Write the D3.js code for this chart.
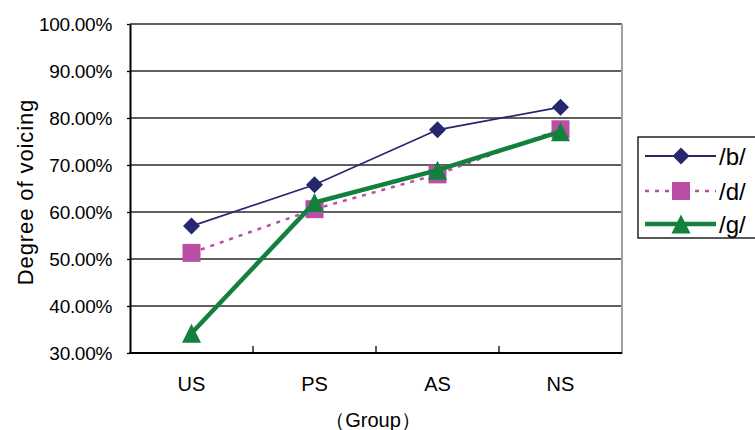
<!DOCTYPE html>
<html>
<head>
<meta charset="utf-8">
<script src="https://cdn.jsdelivr.net/npm/d3@7"></script>
<style>
html,body{margin:0;padding:0;background:#fff;}
svg{display:block;}
text{font-family:"Liberation Sans",Arial,sans-serif;fill:#000;}
</style>
</head>
<body>
<svg id="chart" width="755" height="430"></svg>
<script>
const categories = ["US", "PS", "AS", "NS"];
const seriesB = [0.570, 0.658, 0.775, 0.823];
const seriesD = [0.513, 0.606, 0.680, 0.776];
const seriesG = [0.342, 0.620, 0.689, 0.771];
const seriesNames = ["/b/", "/d/", "/g/"];
const yTicks = [0.3, 0.4, 0.5, 0.6, 0.7, 0.8, 0.9, 1.0];

const svg = d3.select("#chart");
const L = 130, R = 622, T = 24, B = 353;

const x = d3.scaleBand().domain(categories).range([L, R]);
const y = d3.scaleLinear().domain([0.3, 1.0]).range([B, T]);

// gridlines
svg.append("g").selectAll("line").data(yTicks.slice(1)).join("line")
  .attr("x1", L).attr("x2", R)
  .attr("y1", d => y(d)).attr("y2", d => y(d))
  .attr("stroke", "#2a2a2a").attr("stroke-width", 1.3);

// right border
svg.append("line").attr("x1", R).attr("x2", R).attr("y1", T).attr("y2", B + 1)
  .attr("stroke", "#a0a0a0").attr("stroke-width", 2);

// y axis
const yAxis = d3.axisLeft(y).tickValues(yTicks).tickSize(3).tickSizeOuter(0)
  .tickFormat(d => (d * 100).toFixed(2) + "%").tickPadding(15);
const gy = svg.append("g").attr("transform", `translate(${L},0)`).call(yAxis);
gy.select(".domain").attr("stroke", "#000").attr("stroke-width", 2);
gy.selectAll(".tick line").attr("stroke", "#000").attr("stroke-width", 1.3);
gy.selectAll(".tick text").style("font-size", "19px").attr("fill", "#111")
  .attr("font-family", "Liberation Sans, Arial, sans-serif")
  .style("letter-spacing", "-0.3px");

// x axis
const gx = svg.append("g").attr("transform", `translate(0,${B})`).call(
  d3.axisBottom(x).tickSize(0).tickPadding(24));
gx.select(".domain").attr("stroke", "#000").attr("stroke-width", 2.2)
  .attr("d", `M${L - 1},0H${R}`);
gx.selectAll(".tick text").style("font-size", "20px").attr("fill", "#000")
  .attr("font-family", "Liberation Sans, Arial, sans-serif");
// category boundary ticks
svg.append("g").selectAll("line").data(categories.slice(1)).join("line")
  .attr("x1", d => x(d)).attr("x2", d => x(d))
  .attr("y1", B).attr("y2", B - 7)
  .attr("stroke", "#000").attr("stroke-width", 1.3);

// titles
svg.append("text").attr("x", 373).attr("y", 427)
  .attr("text-anchor", "middle").style("font-size", "20px").text("（Group）");
svg.append("text").attr("transform", "translate(25,192) rotate(-90)")
  .attr("text-anchor", "middle").attr("dominant-baseline", "central")
  .style("font-size", "22px").style("letter-spacing", "0.9px").text("Degree of voicing");

// marker shapes
const diamond = s => `M0,${-s}L${s},0L0,${s}L${-s},0Z`;
const square = s => `M${-s},${-s}H${s}V${s}H${-s}Z`;
const triangle = s => `M0,${-s}L${s},${s}H${-s}Z`;

const series = [
  {name: seriesNames[0], values: seriesB, color: "#27276f", width: 1.8, dash: null, shape: diamond(8.5)},
  {name: seriesNames[1], values: seriesD, color: "#b84fa5", width: 2.5, dash: "4,6", shape: square(9)},
  {name: seriesNames[2], values: seriesG, color: "#13803e", width: 4.5, dash: null, shape: triangle(9.5)}
];

const line = d3.line().x((d, i) => x(categories[i]) + x.bandwidth() / 2).y(d => y(d));

series.forEach(s => {
  svg.append("path").datum(s.values).attr("d", line)
    .attr("fill", "none").attr("stroke", s.color).attr("stroke-width", s.width)
    .attr("stroke-dasharray", s.dash);
  svg.append("g").selectAll("path").data(s.values).join("path")
    .attr("transform", (d, i) => `translate(${x(categories[i]) + x.bandwidth() / 2},${y(d)})`)
    .attr("d", s.shape).attr("fill", s.color);
});

// legend
const lg = svg.append("g");
lg.append("rect").attr("x", 638).attr("y", 137).attr("width", 140).attr("height", 101)
  .attr("fill", "#fff").attr("stroke", "#000").attr("stroke-width", 1.3);
const legendY = [156, 191, 224];
series.forEach((s, i) => {
  lg.append("line").attr("x1", 645).attr("x2", 716).attr("y1", legendY[i]).attr("y2", legendY[i])
    .attr("stroke", s.color).attr("stroke-width", s.width).attr("stroke-dasharray", s.dash);
  lg.append("path").attr("transform", `translate(681,${legendY[i]})`).attr("d", s.shape).attr("fill", s.color);
  lg.append("text").attr("x", 719).attr("y", legendY[i]).attr("dominant-baseline", "central")
    .style("font-size", "24px").text(s.name);
});
</script>
</body>
</html>
